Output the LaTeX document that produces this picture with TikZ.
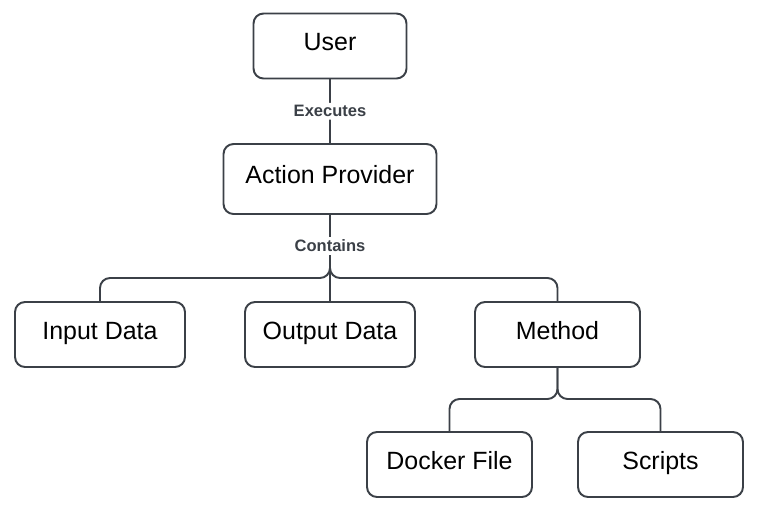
\documentclass[tikz,border=0pt]{standalone}
\usepackage{fontspec}
\setmainfont{Liberation Sans}
\usepackage{tikz}
\usetikzlibrary{positioning}
\definecolor{edge}{HTML}{3B4047}

\begin{document}
\begin{tikzpicture}[x=0.02cm,y=-0.02cm,
  box/.style={draw=edge,line width=1.1pt,rounded corners=0.2cm,fill=white,
    minimum height=1.3cm,text height=10pt,text depth=4.5pt,
    font=\fontsize{14.2}{17}\selectfont},
  link/.style={draw=edge,line width=1.1pt,rounded corners=0.2cm},
  lbl/.style={fill=white,inner sep=1.5pt,font=\fontsize{9.4}{11}\selectfont\bfseries,text=edge}]
\useasboundingbox (0,0) rectangle (758,512);
\node[box,minimum width=3.06cm] (U) at (330,46) {User};
\node[box,minimum width=4.26cm,minimum height=1.4cm] (AP) at (330,179) {Action Provider};
\node[box,minimum width=3.4cm] (ID) at (100,334.5) {Input Data};
\node[box,minimum width=3.4cm] (OD) at (330,334.5) {Output Data};
\node[box,minimum width=3.3cm] (M) at (557.5,334.5) {Method};
\node[box,minimum width=3.3cm] (DF) at (449.5,464.5) {Docker File};
\node[box,minimum width=3.3cm] (S) at (660.5,464.5) {Scripts};
\coordinate (APbus) at (330,278);
\coordinate (Mbus) at (557.5,399);
\draw[link] (U) -- node[lbl] {Executes} (AP);
\draw[link] (AP) -- (APbus) -| (ID);
\draw[link] (AP) -- (APbus) -| (M);
\draw[link] (AP) -- (OD);
\node[lbl] (C) at (330,246) {Contains};
\draw[link] (M) -- (Mbus) -| (DF);
\draw[link] (M) -- (Mbus) -| (S);
\end{tikzpicture}
\end{document}
